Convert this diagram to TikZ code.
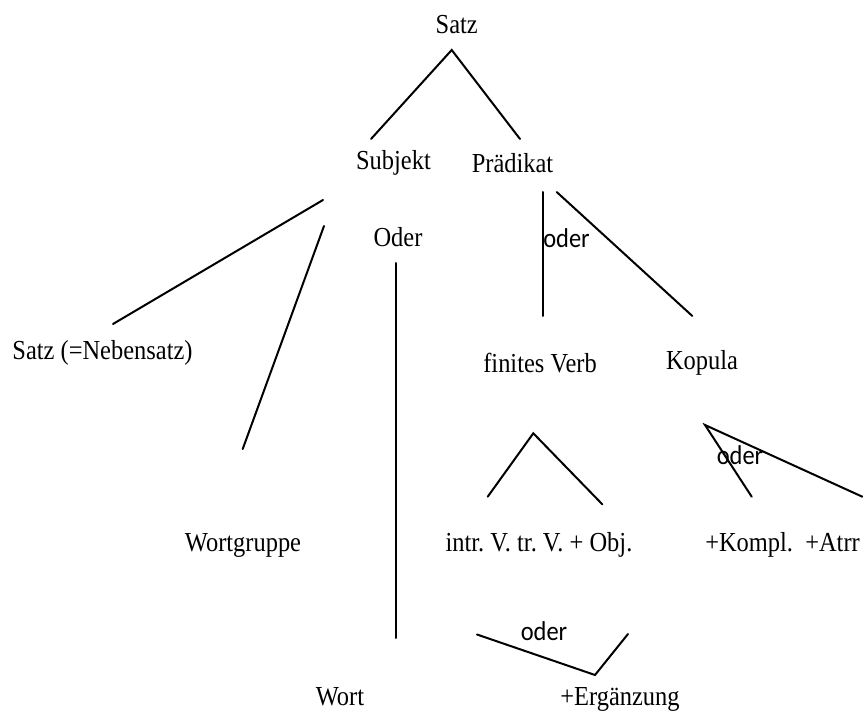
\documentclass[tikz,border=0pt]{standalone}
\usepackage{fontspec}
\setmainfont{Liberation Serif}[FakeStretch=0.89]
\newfontfamily\labelfont{Carlito}[FakeStretch=0.9]
\frenchspacing
\begin{document}
\begin{tikzpicture}[x=0.75pt,y=-0.75pt,
  term/.style={inner sep=0pt,font=\fontsize{20.6}{24}\selectfont},
  orlabel/.style={inner sep=0pt,font=\labelfont\fontsize{20.4}{24}\selectfont},
  branch/.style={line width=1.5pt,line cap=round}]
\useasboundingbox (0,0) rectangle (867,712);

% category labels
\node[term] (satz)  at (456.7,25)  {Satz};
\node[term] (subj)  at (393.5,163) {Subjekt};
\node[term] (pred)  at (512.5,163) {Prädikat};
\node[term] (oder)  at (398,237)   {Oder};
\node[term] (neben) at (102.5,353) {Satz (=Nebensatz)};
\node[term] (verb)  at (540,363)   {finites Verb};
\node[term] (kop)   at (702,363)   {Kopula};
\node[term] (wg)    at (243,545)   {Wortgruppe};
\node[term] (intr)  at (539,545)   {intr. V. tr. V. + Obj.};
\node[term,anchor=west] (kompl) at (705,545) {+Kompl.\ \ +Atrr};
\node[term] (wort)  at (340,697)   {Wort};
\node[term] (erg)   at (620,699)   {+Ergänzung};

% alternative markers
\node[orlabel] (or1) at (566.5,238) {oder};
\node[orlabel] (or2) at (740,455)   {oder};
\node[orlabel] (or3) at (544,631)   {oder};

% branch end points
\coordinate (s0) at (451.7,50);
\coordinate (s1) at (371,139);
\coordinate (s2) at (520,139);
\coordinate (a0) at (323,200);
\coordinate (a1) at (113,324);
\coordinate (b0) at (324,226);
\coordinate (b1) at (242.7,449);
\coordinate (c0) at (395.7,263);
\coordinate (c1) at (395.7,638);
\coordinate (p0) at (542.7,192);
\coordinate (p1) at (542.7,316);
\coordinate (q0) at (556.7,192);
\coordinate (q1) at (692.3,316);
\coordinate (v0) at (487.7,496.7);
\coordinate (v1) at (533.3,433.3);
\coordinate (v2) at (602.3,504.3);
\coordinate (k0) at (705,425);
\coordinate (k1) at (751.7,496.7);
\coordinate (k2) at (862.3,496.7);
\coordinate (e0) at (477,634.5);
\coordinate (e1) at (595,675);
\coordinate (e2) at (628,634);

% branches
\draw[branch] (s1) -- (s0) -- (s2);
\draw[branch] (a0) -- (a1);
\draw[branch] (b0) -- (b1);
\draw[branch] (c0) -- (c1);
\draw[branch] (p0) -- (p1);
\draw[branch] (q0) -- (q1);
\draw[branch] (v0) -- (v1) -- (v2);
\draw[branch] (k1) -- (k0) -- (k2);
\draw[branch] (e0) -- (e1) -- (e2);
\end{tikzpicture}
\end{document}
